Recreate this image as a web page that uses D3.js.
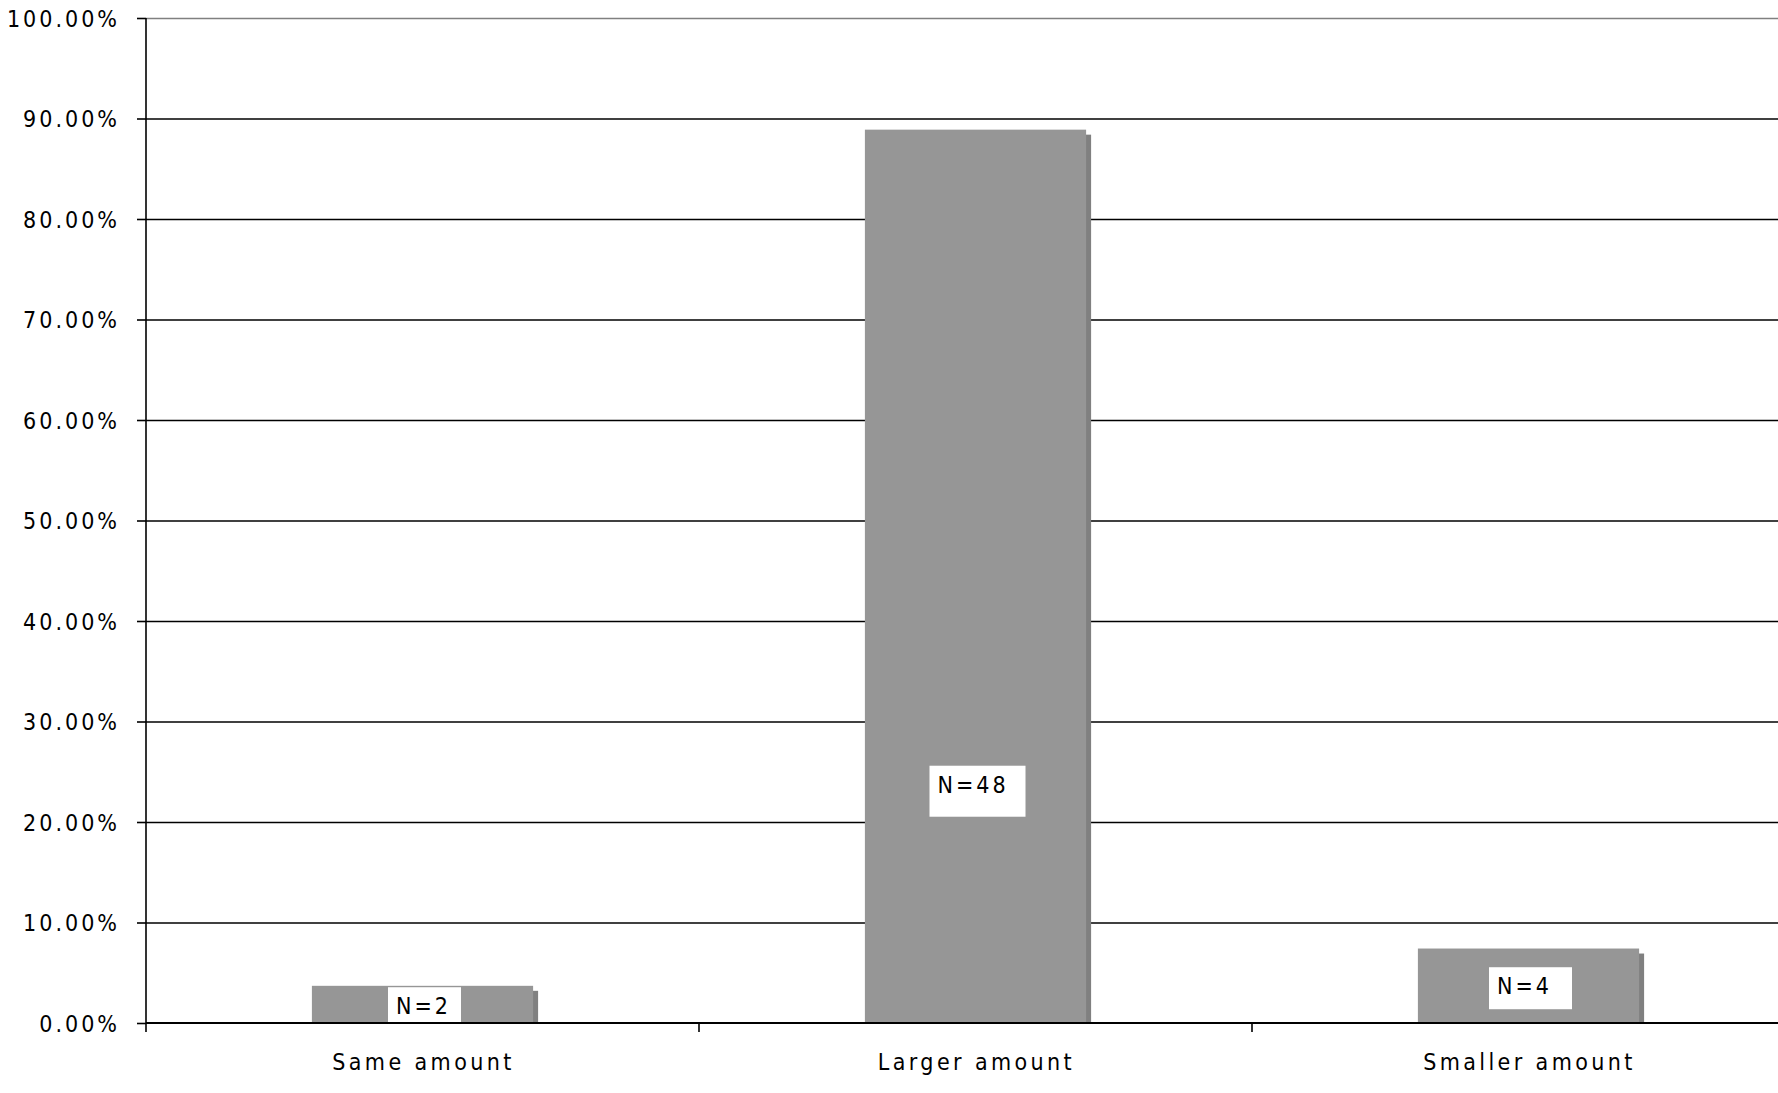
<!DOCTYPE html>
<html>
<head>
<meta charset="utf-8">
<script src="https://cdn.jsdelivr.net/npm/d3@7"></script>
<style>
  html, body { margin: 0; padding: 0; background: #fff; overflow: hidden; }
  text { font-family: "DejaVu Sans Condensed", "DejaVu Sans", sans-serif; fill: #000; }
</style>
</head>
<body>
<div id="chart"></div>
<script>
// Chart values.
const categories = ["Same amount", "Larger amount", "Smaller amount"];
const counts = [2, 48, 4];
const shares = [0.0370, 0.8889, 0.0741];
const yTicks = [0, 0.1, 0.2, 0.3, 0.4, 0.5, 0.6, 0.7, 0.8, 0.9, 1.0];
const labels = counts.map(n => "N=" + n);

// Where the N= boxes sit (top of box as a share of the y axis) and their size.
const labelTop = [0.0356, 0.256, 0.0555];
const labelBox = [{w: 73, h: 36}, {w: 96, h: 51}, {w: 83, h: 42}];

const width = 1778, height = 1093;
const margin = {top: 18, left: 146, bottom: 1023};
const plotRight = 1805;   // the plot area runs past the window edge

const svg = d3.select("#chart")
  .append("svg")
  .attr("width", width)
  .attr("height", height);

const x = d3.scaleBand()
  .domain(categories)
  .range([margin.left, plotRight])
  .padding(0);

const y = d3.scaleLinear()
  .domain([0, 1])
  .range([margin.bottom, margin.top]);

// Gridlines
svg.append("g")
  .attr("transform", "translate(" + margin.left + ",0)")
  .call(d3.axisLeft(y).tickValues(yTicks.slice(1)).tickSize(-(plotRight - margin.left)).tickFormat(""))
  .call(g => g.select(".domain").remove())
  .call(g => g.selectAll(".tick line")
    .attr("stroke", d => d === 1 ? "#808080" : "#000")
    .attr("stroke-width", 1.6));

// Bars with a drop shadow
const bw = x.bandwidth() * 0.4;
const bars = svg.append("g");
bars.selectAll(".shadow")
  .data(shares)
  .enter()
  .append("rect")
  .attr("class", "shadow")
  .attr("x", (d, i) => x(categories[i]) + x.bandwidth() * 0.3 + 5)
  .attr("y", d => y(d) + 5)
  .attr("width", bw)
  .attr("height", d => y(0) - y(d) - 5)
  .style("fill", "#808080");
bars.selectAll(".bar")
  .data(shares)
  .enter()
  .append("rect")
  .attr("class", "bar")
  .attr("x", (d, i) => x(categories[i]) + x.bandwidth() * 0.3)
  .attr("y", d => y(d))
  .attr("width", bw)
  .attr("height", d => y(0) - y(d))
  .style("fill", "#969696");

// Y axis
svg.append("g")
  .attr("transform", "translate(" + margin.left + ",0)")
  .call(d3.axisLeft(y).tickValues(yTicks).tickSizeInner(9).tickSizeOuter(0).tickPadding(17)
    .tickFormat(d3.format(".2%")))
  .call(g => g.select(".domain").attr("stroke", "#000").attr("stroke-width", 1.6)
    .attr("d", "M0," + (margin.bottom + 9) + "V" + margin.top))
  .call(g => g.selectAll(".tick line").attr("stroke", "#000").attr("stroke-width", 1.6))
  .call(g => g.selectAll(".tick text")
    .attr("font-size", 23)
    .attr("letter-spacing", 3)
    .attr("font-family", "DejaVu Sans Condensed, DejaVu Sans")
    .attr("dy", "0.36em"));

// X axis
const xAxis = svg.append("g")
  .attr("transform", "translate(0," + margin.bottom + ")");
xAxis.append("line")
  .attr("x1", margin.left).attr("x2", plotRight)
  .attr("y1", 0).attr("y2", 0)
  .attr("stroke", "#000").attr("stroke-width", 2);
xAxis.selectAll(".sep")
  .data(categories.slice(1))
  .enter()
  .append("line")
  .attr("x1", d => x(d)).attr("x2", d => x(d))
  .attr("y1", 0).attr("y2", 9)
  .attr("stroke", "#000").attr("stroke-width", 1.6);
xAxis.selectAll(".cat")
  .data(categories)
  .enter()
  .append("text")
  .attr("x", d => x(d) + x.bandwidth() / 2 + 1)
  .attr("y", 47)
  .attr("text-anchor", "middle")
  .attr("font-size", 23)
  .attr("letter-spacing", 3.4)
  .text(d => d);

// N= labels in white boxes
const lab = svg.append("g").selectAll("g")
  .data(labels)
  .enter()
  .append("g")
  .attr("transform", (d, i) => {
    const cx = x(categories[i]) + x.bandwidth() / 2 + 2;
    return "translate(" + (cx - labelBox[i].w / 2) + "," + y(labelTop[i]) + ")";
  });
lab.append("rect")
  .attr("width", (d, i) => labelBox[i].w)
  .attr("height", (d, i) => Math.min(labelBox[i].h, margin.bottom - y(labelTop[i]) - 1))
  .style("fill", "#fff");
lab.append("text")
  .attr("x", 8)
  .attr("y", 27)
  .attr("font-size", 23)
  .attr("letter-spacing", 3)
  .text(d => d);
</script>
</body>
</html>
